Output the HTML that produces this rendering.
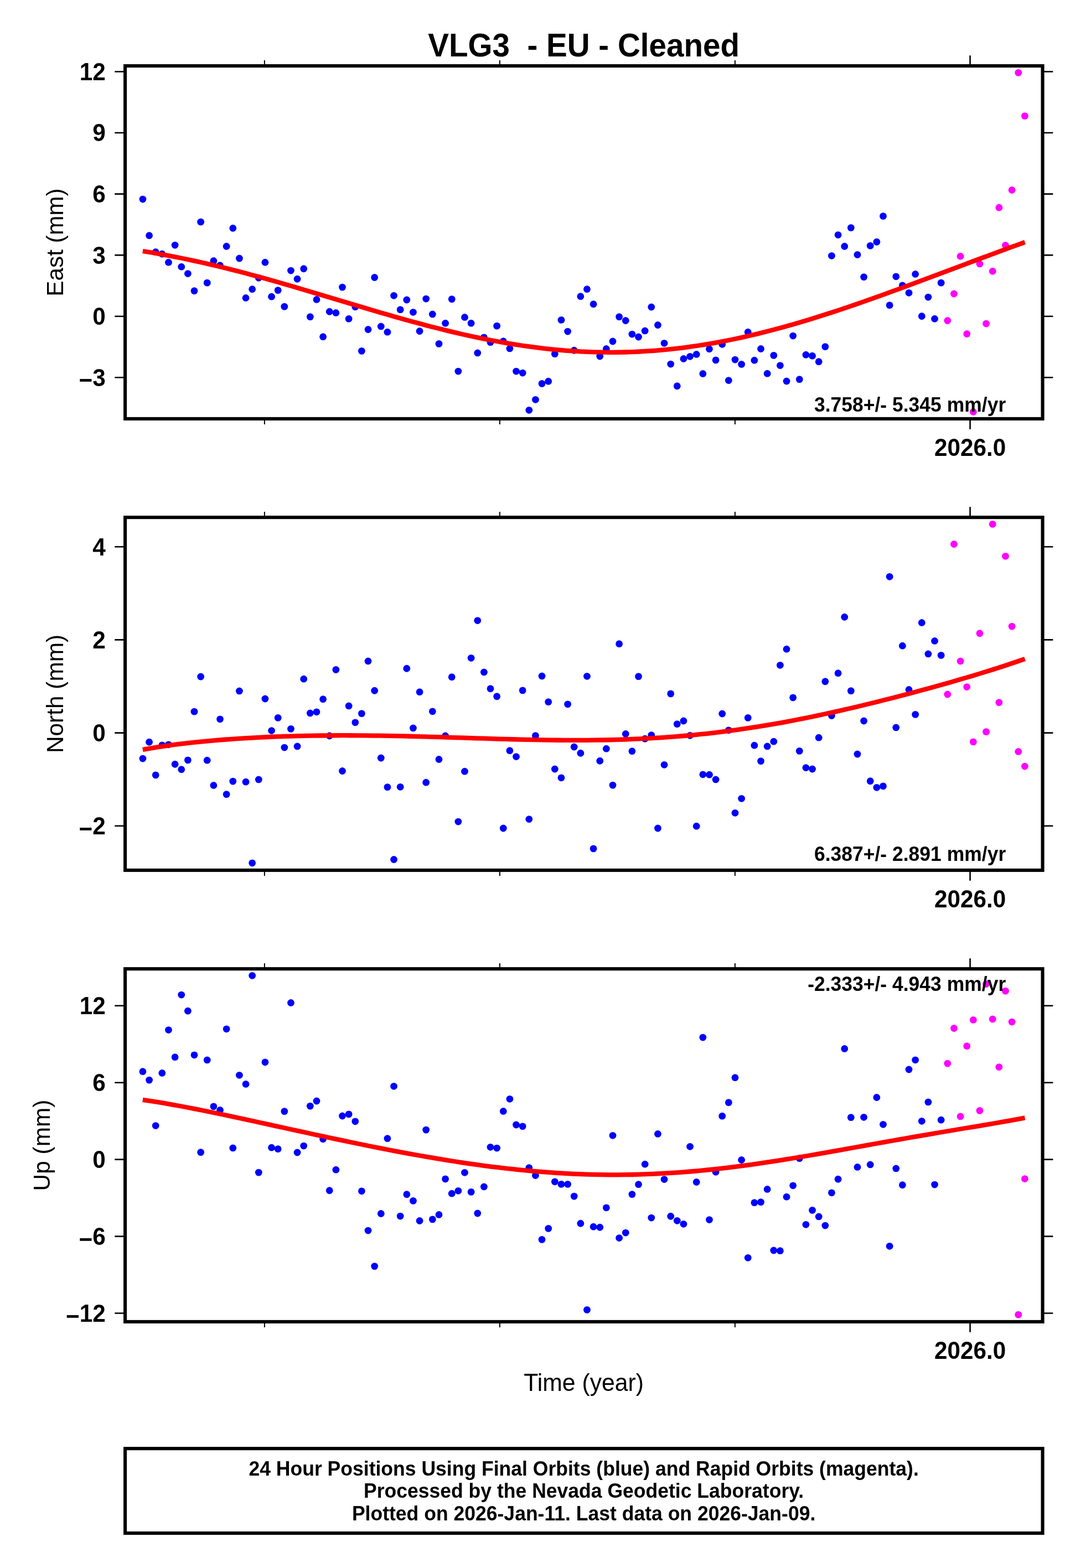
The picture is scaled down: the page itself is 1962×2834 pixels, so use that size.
<!DOCTYPE html>
<html lang="en"><head><meta charset="utf-8"><title>VLG3 - EU - Cleaned</title>
<style>
html,body{margin:0;padding:0;background:#fff;}
body{width:1962px;height:2834px;overflow:hidden;}
svg{display:block;}
text{font-family:"Liberation Sans", Arial, Helvetica, sans-serif;fill:#000;white-space:pre;}
.ann{font-size:42.3px;font-weight:bold;}
.lab{font-size:42.7px;}
.ylab{font-size:42.4px;}
.rate{font-size:35.5px;font-weight:bold;}
.foot{font-size:35.55px;font-weight:bold;}
.title{font-size:56.6px;font-weight:bold;}
.fr{fill:none;stroke:#000;stroke-width:6.1;stroke-linecap:square;stroke-linejoin:miter;}
.tk{fill:none;stroke:#000;stroke-width:2.6;}
.tm{fill:none;stroke:#000;stroke-width:2.0;}
.cv{fill:none;stroke:#f00;stroke-width:8.3;stroke-linejoin:round;stroke-linecap:butt;}
.bl{fill:#00f;}
.mg{fill:#f0f;}
</style></head><body>
<svg width="1962" height="2834" viewBox="0 0 1962 2834">
<rect x="0" y="0" width="1962" height="2834" fill="#fff"/>
<text class="title" id="title" xml:space="preserve" transform="translate(1054.6 101.9) scale(1 1.04)" text-anchor="middle">VLG3  - EU - Cleaned</text>
<g id="panel1">
<g class="bl">
<circle cx="257.95" cy="360.05" r="6.4"/><circle cx="269.58" cy="425.66" r="6.4"/><circle cx="281.21" cy="455.44" r="6.4"/><circle cx="292.84" cy="459.02" r="6.4"/><circle cx="304.47" cy="474.19" r="6.4"/><circle cx="316.11" cy="443.03" r="6.4"/><circle cx="327.74" cy="482.18" r="6.4"/><circle cx="339.37" cy="494.59" r="6.4"/><circle cx="351" cy="525.74" r="6.4"/><circle cx="362.63" cy="401.13" r="6.4"/><circle cx="374.26" cy="511.13" r="6.4"/><circle cx="385.89" cy="471.43" r="6.4"/><circle cx="397.52" cy="479.7" r="6.4"/><circle cx="409.15" cy="445.24" r="6.4"/><circle cx="420.78" cy="412.43" r="6.4"/><circle cx="432.41" cy="467.02" r="6.4"/><circle cx="444.05" cy="538.42" r="6.4"/><circle cx="455.68" cy="522.71" r="6.4"/><circle cx="467.31" cy="502.31" r="6.4"/><circle cx="478.94" cy="474.19" r="6.4"/><circle cx="490.57" cy="536.22" r="6.4"/><circle cx="502.2" cy="524.64" r="6.4"/><circle cx="513.83" cy="554.14" r="6.4"/><circle cx="525.46" cy="489.07" r="6.4"/><circle cx="537.09" cy="504.24" r="6.4"/><circle cx="548.72" cy="485.76" r="6.4"/><circle cx="560.36" cy="572.61" r="6.4"/><circle cx="571.99" cy="541.45" r="6.4"/><circle cx="583.62" cy="608.72" r="6.4"/><circle cx="595.25" cy="563.23" r="6.4"/><circle cx="606.88" cy="565.44" r="6.4"/><circle cx="618.51" cy="519.12" r="6.4"/><circle cx="630.14" cy="576.19" r="6.4"/><circle cx="641.77" cy="554.69" r="6.4"/><circle cx="653.4" cy="634.36" r="6.4"/><circle cx="665.04" cy="595.49" r="6.4"/><circle cx="676.67" cy="501.48" r="6.4"/><circle cx="688.3" cy="589.97" r="6.4"/><circle cx="699.93" cy="600.18" r="6.4"/><circle cx="711.56" cy="534.29" r="6.4"/><circle cx="723.19" cy="559.65" r="6.4"/><circle cx="734.82" cy="542.01" r="6.4"/><circle cx="746.45" cy="564.34" r="6.4"/><circle cx="758.08" cy="598.52" r="6.4"/><circle cx="769.71" cy="540.08" r="6.4"/><circle cx="781.35" cy="567.92" r="6.4"/><circle cx="792.98" cy="621.4" r="6.4"/><circle cx="804.61" cy="584.19" r="6.4"/><circle cx="816.24" cy="540.63" r="6.4"/><circle cx="827.87" cy="671.03" r="6.4"/><circle cx="839.5" cy="573.43" r="6.4"/><circle cx="851.13" cy="584.19" r="6.4"/><circle cx="862.76" cy="637.94" r="6.4"/><circle cx="874.39" cy="609.82" r="6.4"/><circle cx="886.02" cy="618.65" r="6.4"/><circle cx="897.65" cy="589.15" r="6.4"/><circle cx="909.29" cy="616.72" r="6.4"/><circle cx="920.92" cy="629.95" r="6.4"/><circle cx="932.55" cy="671.03" r="6.4"/><circle cx="944.18" cy="674.06" r="6.4"/><circle cx="955.81" cy="741.33" r="6.4"/><circle cx="967.44" cy="722.31" r="6.4"/><circle cx="979.07" cy="693.36" r="6.4"/><circle cx="990.7" cy="689.22" r="6.4"/><circle cx="1002.33" cy="639.6" r="6.4"/><circle cx="1013.96" cy="578.4" r="6.4"/><circle cx="1025.6" cy="599.07" r="6.4"/><circle cx="1037.23" cy="633.26" r="6.4"/><circle cx="1048.86" cy="535.66" r="6.4"/><circle cx="1060.49" cy="522.71" r="6.4"/><circle cx="1072.12" cy="549.72" r="6.4"/><circle cx="1083.75" cy="644.01" r="6.4"/><circle cx="1095.38" cy="630.5" r="6.4"/><circle cx="1107.01" cy="616.99" r="6.4"/><circle cx="1118.64" cy="572.61" r="6.4"/><circle cx="1130.28" cy="579.5" r="6.4"/><circle cx="1141.91" cy="604.04" r="6.4"/><circle cx="1153.54" cy="609" r="6.4"/><circle cx="1165.17" cy="597.97" r="6.4"/><circle cx="1176.8" cy="554.96" r="6.4"/><circle cx="1188.43" cy="587.49" r="6.4"/><circle cx="1200.06" cy="620.3" r="6.4"/><circle cx="1211.69" cy="658.07" r="6.4"/><circle cx="1223.32" cy="697.77" r="6.4"/><circle cx="1234.95" cy="648.42" r="6.4"/><circle cx="1246.59" cy="644.29" r="6.4"/><circle cx="1258.22" cy="640.43" r="6.4"/><circle cx="1269.85" cy="675.44" r="6.4"/><circle cx="1281.48" cy="630.78" r="6.4"/><circle cx="1293.11" cy="650.9" r="6.4"/><circle cx="1304.74" cy="622.23" r="6.4"/><circle cx="1316.37" cy="687.57" r="6.4"/><circle cx="1328" cy="650.08" r="6.4"/><circle cx="1339.63" cy="658.35" r="6.4"/><circle cx="1351.26" cy="600.18" r="6.4"/><circle cx="1362.89" cy="651.18" r="6.4"/><circle cx="1374.53" cy="630.5" r="6.4"/><circle cx="1386.16" cy="675.16" r="6.4"/><circle cx="1397.79" cy="642.36" r="6.4"/><circle cx="1409.42" cy="660.55" r="6.4"/><circle cx="1421.05" cy="688.95" r="6.4"/><circle cx="1432.68" cy="607.07" r="6.4"/><circle cx="1444.31" cy="685.64" r="6.4"/><circle cx="1455.94" cy="641.25" r="6.4"/><circle cx="1467.57" cy="643.18" r="6.4"/><circle cx="1479.21" cy="653.66" r="6.4"/><circle cx="1490.84" cy="626.64" r="6.4"/><circle cx="1502.47" cy="462.33" r="6.4"/><circle cx="1514.1" cy="424.56" r="6.4"/><circle cx="1525.73" cy="445.24" r="6.4"/><circle cx="1537.36" cy="411.6" r="6.4"/><circle cx="1548.99" cy="460.4" r="6.4"/><circle cx="1560.62" cy="500.65" r="6.4"/><circle cx="1572.25" cy="444.14" r="6.4"/><circle cx="1583.88" cy="437.24" r="6.4"/><circle cx="1595.52" cy="390.65" r="6.4"/><circle cx="1607.15" cy="551.65" r="6.4"/><circle cx="1618.78" cy="499.82" r="6.4"/><circle cx="1630.41" cy="515.81" r="6.4"/><circle cx="1642.04" cy="529.32" r="6.4"/><circle cx="1653.67" cy="495.41" r="6.4"/><circle cx="1665.3" cy="571.5" r="6.4"/><circle cx="1676.93" cy="537.04" r="6.4"/><circle cx="1688.56" cy="576.19" r="6.4"/><circle cx="1700.19" cy="511.13" r="6.4"/>
</g>
<g class="mg">
<circle cx="1711.83" cy="579.5" r="6.4"/><circle cx="1723.46" cy="530.98" r="6.4"/><circle cx="1735.09" cy="463.16" r="6.4"/><circle cx="1746.72" cy="603.48" r="6.4"/><circle cx="1758.35" cy="744.36" r="6.4"/><circle cx="1769.98" cy="476.94" r="6.4"/><circle cx="1781.61" cy="585.01" r="6.4"/><circle cx="1793.24" cy="490.18" r="6.4"/><circle cx="1804.87" cy="375.21" r="6.4"/><circle cx="1816.5" cy="443.31" r="6.4"/><circle cx="1828.13" cy="343.51" r="6.4"/><circle cx="1839.77" cy="131.4" r="6.4"/><circle cx="1851.4" cy="209.6" r="6.4"/>
</g>
<path class="cv" d="M257.85 453.81 L271.24 456.03 L284.64 458.36 L298.03 460.8 L311.42 463.34 L324.81 465.99 L338.21 468.75 L351.6 471.61 L364.99 474.57 L378.39 477.64 L391.78 480.8 L405.17 484.05 L418.56 487.39 L431.96 490.82 L445.35 494.33 L458.74 497.91 L472.14 501.57 L485.53 505.29 L498.92 509.07 L512.31 512.9 L525.71 516.78 L539.1 520.71 L552.49 524.66 L565.89 528.65 L579.28 532.66 L592.67 536.68 L606.06 540.71 L619.46 544.74 L632.85 548.76 L646.24 552.78 L659.63 556.77 L673.03 560.73 L686.42 564.66 L699.81 568.55 L713.21 572.4 L726.6 576.18 L739.99 579.91 L753.38 583.57 L766.78 587.15 L780.17 590.65 L793.56 594.07 L806.96 597.39 L820.35 600.61 L833.74 603.73 L847.13 606.73 L860.53 609.62 L873.92 612.39 L887.31 615.03 L900.71 617.54 L914.1 619.91 L927.49 622.14 L940.88 624.23 L954.28 626.17 L967.67 627.95 L981.06 629.58 L994.46 631.05 L1007.85 632.36 L1021.24 633.51 L1034.63 634.48 L1048.03 635.29 L1061.42 635.93 L1074.81 636.39 L1088.21 636.68 L1101.6 636.79 L1114.99 636.73 L1128.38 636.49 L1141.78 636.07 L1155.17 635.48 L1168.56 634.72 L1181.96 633.77 L1195.35 632.65 L1208.74 631.36 L1222.13 629.9 L1235.53 628.27 L1248.92 626.46 L1262.31 624.5 L1275.71 622.36 L1289.1 620.07 L1302.49 617.62 L1315.88 615.01 L1329.28 612.25 L1342.67 609.35 L1356.06 606.3 L1369.46 603.11 L1382.85 599.78 L1396.24 596.32 L1409.63 592.74 L1423.03 589.03 L1436.42 585.2 L1449.81 581.27 L1463.2 577.22 L1476.6 573.08 L1489.99 568.83 L1503.38 564.5 L1516.78 560.08 L1530.17 555.58 L1543.56 551 L1556.95 546.36 L1570.35 541.65 L1583.74 536.89 L1597.13 532.07 L1610.53 527.21 L1623.92 522.31 L1637.31 517.37 L1650.7 512.4 L1664.1 507.41 L1677.49 502.41 L1690.88 497.39 L1704.28 492.36 L1717.67 487.32 L1731.06 482.29 L1744.45 477.27 L1757.85 472.25 L1771.24 467.25 L1784.63 462.27 L1798.03 457.31 L1811.42 452.37 L1824.81 447.46 L1838.2 442.58 L1851.6 437.73"/>
<path class="tk" d="M207.3 129.5H226.1M1883.6 129.5H1902.4M207.3 240.05H226.1M1883.6 240.05H1902.4M207.3 350.6H226.1M1883.6 350.6H1902.4M207.3 461.15H226.1M1883.6 461.15H1902.4M207.3 571.7H226.1M1883.6 571.7H1902.4M207.3 682.25H226.1M1883.6 682.25H1902.4M1752.6 100.3V119.1M1752.6 756.9V775.7"/>
<path class="tm" d="M477.9 108.9V119.1M477.9 756.9V767.1M902.9 108.9V119.1M902.9 756.9V767.1M1327.9 108.9V119.1M1327.9 756.9V767.1"/>
<rect class="fr" x="226.1" y="119.1" width="1657.5" height="637.8"/>
<text class="ann" transform="translate(190.8 144.9) scale(1 1.05)" text-anchor="end">12</text>
<text class="ann" transform="translate(190.8 255.45) scale(1 1.05)" text-anchor="end">9</text>
<text class="ann" transform="translate(190.8 366) scale(1 1.05)" text-anchor="end">6</text>
<text class="ann" transform="translate(190.8 476.55) scale(1 1.05)" text-anchor="end">3</text>
<text class="ann" transform="translate(190.8 587.1) scale(1 1.05)" text-anchor="end">0</text>
<text class="ann" transform="translate(190.8 697.65) scale(1 1.05)" text-anchor="end"><tspan dy="4.4">−</tspan><tspan dy="-4.4">3</tspan></text>
<text class="ann" transform="translate(1752.6 823.8) scale(1 1.05)" text-anchor="middle">2026.0</text>
<text class="ylab" transform="translate(114.2 438) rotate(-90)" text-anchor="middle">East (mm)</text>
<text class="rate" id="rate1" transform="translate(1817.2 743.8) scale(1 1.02)" text-anchor="end">3.758+/- 5.345 mm/yr</text>
</g>
<g id="panel2">
<g class="bl">
<circle cx="257.95" cy="1371.05" r="6.4"/><circle cx="269.58" cy="1341.23" r="6.4"/><circle cx="281.21" cy="1400.88" r="6.4"/><circle cx="292.84" cy="1346.84" r="6.4"/><circle cx="304.47" cy="1345.79" r="6.4"/><circle cx="316.11" cy="1381.23" r="6.4"/><circle cx="327.74" cy="1390.7" r="6.4"/><circle cx="339.37" cy="1373.86" r="6.4"/><circle cx="351" cy="1286.14" r="6.4"/><circle cx="362.63" cy="1222.98" r="6.4"/><circle cx="374.26" cy="1374.21" r="6.4"/><circle cx="385.89" cy="1419.47" r="6.4"/><circle cx="397.52" cy="1299.82" r="6.4"/><circle cx="409.15" cy="1435.61" r="6.4"/><circle cx="420.78" cy="1412.11" r="6.4"/><circle cx="432.41" cy="1248.95" r="6.4"/><circle cx="444.05" cy="1413.16" r="6.4"/><circle cx="455.68" cy="1559.82" r="6.4"/><circle cx="467.31" cy="1408.95" r="6.4"/><circle cx="478.94" cy="1262.98" r="6.4"/><circle cx="490.57" cy="1320.53" r="6.4"/><circle cx="502.2" cy="1297.37" r="6.4"/><circle cx="513.83" cy="1351.05" r="6.4"/><circle cx="525.46" cy="1317.37" r="6.4"/><circle cx="537.09" cy="1348.95" r="6.4"/><circle cx="548.72" cy="1227.19" r="6.4"/><circle cx="560.36" cy="1288.95" r="6.4"/><circle cx="571.99" cy="1286.84" r="6.4"/><circle cx="583.62" cy="1263.68" r="6.4"/><circle cx="595.25" cy="1330" r="6.4"/><circle cx="606.88" cy="1210.35" r="6.4"/><circle cx="618.51" cy="1393.51" r="6.4"/><circle cx="630.14" cy="1275.96" r="6.4"/><circle cx="641.77" cy="1305.79" r="6.4"/><circle cx="653.4" cy="1289.65" r="6.4"/><circle cx="665.04" cy="1194.91" r="6.4"/><circle cx="676.67" cy="1248.25" r="6.4"/><circle cx="688.3" cy="1370" r="6.4"/><circle cx="699.93" cy="1422.63" r="6.4"/><circle cx="711.56" cy="1553.51" r="6.4"/><circle cx="723.19" cy="1422.28" r="6.4"/><circle cx="734.82" cy="1208.25" r="6.4"/><circle cx="746.45" cy="1315.96" r="6.4"/><circle cx="758.08" cy="1250.7" r="6.4"/><circle cx="769.71" cy="1414.21" r="6.4"/><circle cx="781.35" cy="1285.79" r="6.4"/><circle cx="792.98" cy="1372.46" r="6.4"/><circle cx="804.61" cy="1330" r="6.4"/><circle cx="816.24" cy="1223.68" r="6.4"/><circle cx="827.87" cy="1485.09" r="6.4"/><circle cx="839.5" cy="1394.21" r="6.4"/><circle cx="851.13" cy="1189.3" r="6.4"/><circle cx="862.76" cy="1121.58" r="6.4"/><circle cx="874.39" cy="1214.91" r="6.4"/><circle cx="886.02" cy="1244.74" r="6.4"/><circle cx="897.65" cy="1258.77" r="6.4"/><circle cx="909.29" cy="1497.02" r="6.4"/><circle cx="920.92" cy="1356.67" r="6.4"/><circle cx="932.55" cy="1367.54" r="6.4"/><circle cx="944.18" cy="1247.89" r="6.4"/><circle cx="955.81" cy="1480.53" r="6.4"/><circle cx="967.44" cy="1329.65" r="6.4"/><circle cx="979.07" cy="1221.93" r="6.4"/><circle cx="990.7" cy="1268.6" r="6.4"/><circle cx="1002.33" cy="1390" r="6.4"/><circle cx="1013.96" cy="1405.79" r="6.4"/><circle cx="1025.6" cy="1272.81" r="6.4"/><circle cx="1037.23" cy="1350" r="6.4"/><circle cx="1048.86" cy="1361.23" r="6.4"/><circle cx="1060.49" cy="1222.28" r="6.4"/><circle cx="1072.12" cy="1533.86" r="6.4"/><circle cx="1083.75" cy="1375.26" r="6.4"/><circle cx="1095.38" cy="1353.16" r="6.4"/><circle cx="1107.01" cy="1419.12" r="6.4"/><circle cx="1118.64" cy="1163.68" r="6.4"/><circle cx="1130.28" cy="1326.49" r="6.4"/><circle cx="1141.91" cy="1357.72" r="6.4"/><circle cx="1153.54" cy="1222.63" r="6.4"/><circle cx="1165.17" cy="1335.26" r="6.4"/><circle cx="1176.8" cy="1328.6" r="6.4"/><circle cx="1188.43" cy="1497.02" r="6.4"/><circle cx="1200.06" cy="1382.28" r="6.4"/><circle cx="1211.69" cy="1253.86" r="6.4"/><circle cx="1223.32" cy="1308.6" r="6.4"/><circle cx="1234.95" cy="1302.98" r="6.4"/><circle cx="1246.59" cy="1329.3" r="6.4"/><circle cx="1258.22" cy="1493.16" r="6.4"/><circle cx="1269.85" cy="1399.82" r="6.4"/><circle cx="1281.48" cy="1400.18" r="6.4"/><circle cx="1293.11" cy="1408.95" r="6.4"/><circle cx="1304.74" cy="1290" r="6.4"/><circle cx="1316.37" cy="1319.82" r="6.4"/><circle cx="1328" cy="1469.3" r="6.4"/><circle cx="1339.63" cy="1443.33" r="6.4"/><circle cx="1351.26" cy="1297.37" r="6.4"/><circle cx="1362.89" cy="1347.19" r="6.4"/><circle cx="1374.53" cy="1375.61" r="6.4"/><circle cx="1386.16" cy="1348.95" r="6.4"/><circle cx="1397.79" cy="1340.18" r="6.4"/><circle cx="1409.42" cy="1202.28" r="6.4"/><circle cx="1421.05" cy="1173.16" r="6.4"/><circle cx="1432.68" cy="1260.88" r="6.4"/><circle cx="1444.31" cy="1357.37" r="6.4"/><circle cx="1455.94" cy="1387.54" r="6.4"/><circle cx="1467.57" cy="1390" r="6.4"/><circle cx="1479.21" cy="1333.16" r="6.4"/><circle cx="1490.84" cy="1231.75" r="6.4"/><circle cx="1502.47" cy="1293.51" r="6.4"/><circle cx="1514.1" cy="1216.67" r="6.4"/><circle cx="1525.73" cy="1115.26" r="6.4"/><circle cx="1537.36" cy="1248.6" r="6.4"/><circle cx="1548.99" cy="1362.98" r="6.4"/><circle cx="1560.62" cy="1302.98" r="6.4"/><circle cx="1572.25" cy="1411.75" r="6.4"/><circle cx="1583.88" cy="1423.33" r="6.4"/><circle cx="1595.52" cy="1420.88" r="6.4"/><circle cx="1607.15" cy="1042.28" r="6.4"/><circle cx="1618.78" cy="1314.91" r="6.4"/><circle cx="1630.41" cy="1167.19" r="6.4"/><circle cx="1642.04" cy="1246.49" r="6.4"/><circle cx="1653.67" cy="1291.4" r="6.4"/><circle cx="1665.3" cy="1125.44" r="6.4"/><circle cx="1676.93" cy="1181.93" r="6.4"/><circle cx="1688.56" cy="1158.42" r="6.4"/><circle cx="1700.19" cy="1184.39" r="6.4"/>
</g>
<g class="mg">
<circle cx="1711.83" cy="1254.91" r="6.4"/><circle cx="1723.46" cy="983.5" r="6.4"/><circle cx="1735.09" cy="1194.91" r="6.4"/><circle cx="1746.72" cy="1241.58" r="6.4"/><circle cx="1758.35" cy="1340.88" r="6.4"/><circle cx="1769.98" cy="1144.74" r="6.4"/><circle cx="1781.61" cy="1322.63" r="6.4"/><circle cx="1793.24" cy="947.4" r="6.4"/><circle cx="1804.87" cy="1269.65" r="6.4"/><circle cx="1816.5" cy="1005.3" r="6.4"/><circle cx="1828.13" cy="1132.11" r="6.4"/><circle cx="1839.77" cy="1358.42" r="6.4"/><circle cx="1851.4" cy="1385.09" r="6.4"/>
</g>
<path class="cv" d="M257.85 1354.9 L271.24 1352.54 L284.64 1350.37 L298.03 1348.35 L311.42 1346.47 L324.81 1344.74 L338.21 1343.14 L351.6 1341.65 L364.99 1340.27 L378.39 1339.01 L391.78 1337.83 L405.17 1336.76 L418.56 1335.77 L431.96 1334.86 L445.35 1334.03 L458.74 1333.28 L472.14 1332.6 L485.53 1331.99 L498.92 1331.45 L512.31 1330.97 L525.71 1330.56 L539.1 1330.2 L552.49 1329.9 L565.89 1329.66 L579.28 1329.48 L592.67 1329.34 L606.06 1329.26 L619.46 1329.22 L632.85 1329.23 L646.24 1329.29 L659.63 1329.39 L673.03 1329.53 L686.42 1329.71 L699.81 1329.92 L713.21 1330.17 L726.6 1330.45 L739.99 1330.76 L753.38 1331.09 L766.78 1331.44 L780.17 1331.82 L793.56 1332.21 L806.96 1332.62 L820.35 1333.03 L833.74 1333.46 L847.13 1333.88 L860.53 1334.3 L873.92 1334.72 L887.31 1335.13 L900.71 1335.53 L914.1 1335.91 L927.49 1336.27 L940.88 1336.61 L954.28 1336.92 L967.67 1337.19 L981.06 1337.43 L994.46 1337.62 L1007.85 1337.77 L1021.24 1337.88 L1034.63 1337.92 L1048.03 1337.92 L1061.42 1337.85 L1074.81 1337.72 L1088.21 1337.52 L1101.6 1337.24 L1114.99 1336.9 L1128.38 1336.48 L1141.78 1335.97 L1155.17 1335.39 L1168.56 1334.71 L1181.96 1333.95 L1195.35 1333.11 L1208.74 1332.16 L1222.13 1331.13 L1235.53 1330 L1248.92 1328.78 L1262.31 1327.45 L1275.71 1326.03 L1289.1 1324.52 L1302.49 1322.9 L1315.88 1321.19 L1329.28 1319.38 L1342.67 1317.47 L1356.06 1315.47 L1369.46 1313.38 L1382.85 1311.19 L1396.24 1308.91 L1409.63 1306.54 L1423.03 1304.08 L1436.42 1301.54 L1449.81 1298.91 L1463.2 1296.21 L1476.6 1293.42 L1489.99 1290.56 L1503.38 1287.63 L1516.78 1284.63 L1530.17 1281.57 L1543.56 1278.44 L1556.95 1275.24 L1570.35 1272 L1583.74 1268.69 L1597.13 1265.33 L1610.53 1261.92 L1623.92 1258.46 L1637.31 1254.95 L1650.7 1251.4 L1664.1 1247.79 L1677.49 1244.14 L1690.88 1240.44 L1704.28 1236.69 L1717.67 1232.89 L1731.06 1229.04 L1744.45 1225.13 L1757.85 1221.15 L1771.24 1217.1 L1784.63 1212.98 L1798.03 1208.77 L1811.42 1204.47 L1824.81 1200.05 L1838.2 1195.52 L1851.6 1190.85"/>
<path class="tk" d="M207.3 988.2H226.1M1883.6 988.2H1902.4M207.3 1156.4H226.1M1883.6 1156.4H1902.4M207.3 1324.6H226.1M1883.6 1324.6H1902.4M207.3 1492.8H226.1M1883.6 1492.8H1902.4M1752.6 916.3V935.1M1752.6 1572.85V1591.65"/>
<path class="tm" d="M477.9 924.9V935.1M477.9 1572.85V1583.05M902.9 924.9V935.1M902.9 1572.85V1583.05M1327.9 924.9V935.1M1327.9 1572.85V1583.05"/>
<rect class="fr" x="226.1" y="935.1" width="1657.5" height="637.75"/>
<text class="ann" transform="translate(190.8 1003.6) scale(1 1.05)" text-anchor="end">4</text>
<text class="ann" transform="translate(190.8 1171.8) scale(1 1.05)" text-anchor="end">2</text>
<text class="ann" transform="translate(190.8 1340) scale(1 1.05)" text-anchor="end">0</text>
<text class="ann" transform="translate(190.8 1508.2) scale(1 1.05)" text-anchor="end"><tspan dy="4.4">−</tspan><tspan dy="-4.4">2</tspan></text>
<text class="ann" transform="translate(1752.6 1639.7) scale(1 1.05)" text-anchor="middle">2026.0</text>
<text class="ylab" transform="translate(114.2 1253.97) rotate(-90)" text-anchor="middle">North (mm)</text>
<text class="rate" id="rate2" transform="translate(1817.2 1556) scale(1 1.02)" text-anchor="end">6.387+/- 2.891 mm/yr</text>
</g>
<g id="panel3">
<g class="bl">
<circle cx="257.95" cy="1936.67" r="6.4"/><circle cx="269.58" cy="1952.11" r="6.4"/><circle cx="281.21" cy="2034.56" r="6.4"/><circle cx="292.84" cy="1939.47" r="6.4"/><circle cx="304.47" cy="1861.58" r="6.4"/><circle cx="316.11" cy="1910.7" r="6.4"/><circle cx="327.74" cy="1798.07" r="6.4"/><circle cx="339.37" cy="1827.19" r="6.4"/><circle cx="351" cy="1906.84" r="6.4"/><circle cx="362.63" cy="2082.63" r="6.4"/><circle cx="374.26" cy="1915.96" r="6.4"/><circle cx="385.89" cy="1999.82" r="6.4"/><circle cx="397.52" cy="2006.49" r="6.4"/><circle cx="409.15" cy="1859.82" r="6.4"/><circle cx="420.78" cy="2074.91" r="6.4"/><circle cx="432.41" cy="1943.33" r="6.4"/><circle cx="444.05" cy="1959.47" r="6.4"/><circle cx="455.68" cy="1763.33" r="6.4"/><circle cx="467.31" cy="2119.12" r="6.4"/><circle cx="478.94" cy="1919.82" r="6.4"/><circle cx="490.57" cy="2074.21" r="6.4"/><circle cx="502.2" cy="2076.67" r="6.4"/><circle cx="513.83" cy="2008.6" r="6.4"/><circle cx="525.46" cy="1812.46" r="6.4"/><circle cx="537.09" cy="2082.98" r="6.4"/><circle cx="548.72" cy="2071.05" r="6.4"/><circle cx="560.36" cy="1999.12" r="6.4"/><circle cx="571.99" cy="1990" r="6.4"/><circle cx="583.62" cy="2058.77" r="6.4"/><circle cx="595.25" cy="2151.75" r="6.4"/><circle cx="606.88" cy="2114.21" r="6.4"/><circle cx="618.51" cy="2017.02" r="6.4"/><circle cx="630.14" cy="2013.86" r="6.4"/><circle cx="641.77" cy="2026.84" r="6.4"/><circle cx="653.4" cy="2152.81" r="6.4"/><circle cx="665.04" cy="2224.04" r="6.4"/><circle cx="676.67" cy="2288.6" r="6.4"/><circle cx="688.3" cy="2193.51" r="6.4"/><circle cx="699.93" cy="2057.72" r="6.4"/><circle cx="711.56" cy="1963.33" r="6.4"/><circle cx="723.19" cy="2198.07" r="6.4"/><circle cx="734.82" cy="2158.77" r="6.4"/><circle cx="746.45" cy="2170.35" r="6.4"/><circle cx="758.08" cy="2206.49" r="6.4"/><circle cx="769.71" cy="2042.11" r="6.4"/><circle cx="781.35" cy="2203.86" r="6.4"/><circle cx="792.98" cy="2195.44" r="6.4"/><circle cx="804.61" cy="2130.88" r="6.4"/><circle cx="816.24" cy="2157.19" r="6.4"/><circle cx="827.87" cy="2152.28" r="6.4"/><circle cx="839.5" cy="2119.3" r="6.4"/><circle cx="851.13" cy="2154.39" r="6.4"/><circle cx="862.76" cy="2192.98" r="6.4"/><circle cx="874.39" cy="2144.91" r="6.4"/><circle cx="886.02" cy="2073.33" r="6.4"/><circle cx="897.65" cy="2075.09" r="6.4"/><circle cx="909.29" cy="2008.42" r="6.4"/><circle cx="920.92" cy="1986.32" r="6.4"/><circle cx="932.55" cy="2032.98" r="6.4"/><circle cx="944.18" cy="2035.79" r="6.4"/><circle cx="955.81" cy="2110.53" r="6.4"/><circle cx="967.44" cy="2124.56" r="6.4"/><circle cx="979.07" cy="2240.35" r="6.4"/><circle cx="990.7" cy="2220.35" r="6.4"/><circle cx="1002.33" cy="2135.79" r="6.4"/><circle cx="1013.96" cy="2140.35" r="6.4"/><circle cx="1025.6" cy="2140.35" r="6.4"/><circle cx="1037.23" cy="2162.11" r="6.4"/><circle cx="1048.86" cy="2211.23" r="6.4"/><circle cx="1060.49" cy="2367.37" r="6.4"/><circle cx="1072.12" cy="2217.19" r="6.4"/><circle cx="1083.75" cy="2218.25" r="6.4"/><circle cx="1095.38" cy="2182.81" r="6.4"/><circle cx="1107.01" cy="2052.28" r="6.4"/><circle cx="1118.64" cy="2237.54" r="6.4"/><circle cx="1130.28" cy="2228.07" r="6.4"/><circle cx="1141.91" cy="2158.6" r="6.4"/><circle cx="1153.54" cy="2140.7" r="6.4"/><circle cx="1165.17" cy="2104.21" r="6.4"/><circle cx="1176.8" cy="2201.05" r="6.4"/><circle cx="1188.43" cy="2049.47" r="6.4"/><circle cx="1200.06" cy="2131.58" r="6.4"/><circle cx="1211.69" cy="2198.25" r="6.4"/><circle cx="1223.32" cy="2206.32" r="6.4"/><circle cx="1234.95" cy="2212.28" r="6.4"/><circle cx="1246.59" cy="2072.28" r="6.4"/><circle cx="1258.22" cy="2136.49" r="6.4"/><circle cx="1269.85" cy="1875.09" r="6.4"/><circle cx="1281.48" cy="2204.56" r="6.4"/><circle cx="1293.11" cy="2118.25" r="6.4"/><circle cx="1304.74" cy="2017.19" r="6.4"/><circle cx="1316.37" cy="1992.63" r="6.4"/><circle cx="1328" cy="1947.72" r="6.4"/><circle cx="1339.63" cy="2096.49" r="6.4"/><circle cx="1351.26" cy="2273.33" r="6.4"/><circle cx="1362.89" cy="2173.68" r="6.4"/><circle cx="1374.53" cy="2172.63" r="6.4"/><circle cx="1386.16" cy="2149.47" r="6.4"/><circle cx="1397.79" cy="2260" r="6.4"/><circle cx="1409.42" cy="2260.7" r="6.4"/><circle cx="1421.05" cy="2163.16" r="6.4"/><circle cx="1432.68" cy="2142.81" r="6.4"/><circle cx="1444.31" cy="2093.68" r="6.4"/><circle cx="1455.94" cy="2213.33" r="6.4"/><circle cx="1467.57" cy="2187.37" r="6.4"/><circle cx="1479.21" cy="2198.95" r="6.4"/><circle cx="1490.84" cy="2215.09" r="6.4"/><circle cx="1502.47" cy="2155.79" r="6.4"/><circle cx="1514.1" cy="2131.23" r="6.4"/><circle cx="1525.73" cy="1895.44" r="6.4"/><circle cx="1537.36" cy="2019.65" r="6.4"/><circle cx="1548.99" cy="2109.47" r="6.4"/><circle cx="1560.62" cy="2019.3" r="6.4"/><circle cx="1572.25" cy="2104.91" r="6.4"/><circle cx="1583.88" cy="1983.51" r="6.4"/><circle cx="1595.52" cy="2032.28" r="6.4"/><circle cx="1607.15" cy="2252.28" r="6.4"/><circle cx="1618.78" cy="2111.93" r="6.4"/><circle cx="1630.41" cy="2141.75" r="6.4"/><circle cx="1642.04" cy="1932.98" r="6.4"/><circle cx="1653.67" cy="1915.79" r="6.4"/><circle cx="1665.3" cy="2026.32" r="6.4"/><circle cx="1676.93" cy="1991.93" r="6.4"/><circle cx="1688.56" cy="2141.05" r="6.4"/><circle cx="1700.19" cy="2024.21" r="6.4"/>
</g>
<g class="mg">
<circle cx="1711.83" cy="1922.11" r="6.4"/><circle cx="1723.46" cy="1858.5" r="6.4"/><circle cx="1735.09" cy="2017.89" r="6.4"/><circle cx="1746.72" cy="1890.68" r="6.4"/><circle cx="1758.35" cy="1843.46" r="6.4"/><circle cx="1769.98" cy="2007.37" r="6.4"/><circle cx="1781.61" cy="1778.5" r="6.4"/><circle cx="1793.24" cy="1841.95" r="6.4"/><circle cx="1804.87" cy="1928.57" r="6.4"/><circle cx="1816.5" cy="1791.13" r="6.4"/><circle cx="1828.13" cy="1847.07" r="6.4"/><circle cx="1839.77" cy="2376.14" r="6.4"/><circle cx="1851.4" cy="2130.53" r="6.4"/>
</g>
<path class="cv" d="M257.85 1987.85 L271.24 1989.84 L284.64 1991.97 L298.03 1994.21 L311.42 1996.55 L324.81 1998.99 L338.21 2001.51 L351.6 2004.1 L364.99 2006.76 L378.39 2009.47 L391.78 2012.23 L405.17 2015.03 L418.56 2017.87 L431.96 2020.74 L445.35 2023.63 L458.74 2026.54 L472.14 2029.46 L485.53 2032.39 L498.92 2035.33 L512.31 2038.27 L525.71 2041.21 L539.1 2044.14 L552.49 2047.06 L565.89 2049.97 L579.28 2052.86 L592.67 2055.74 L606.06 2058.59 L619.46 2061.43 L632.85 2064.23 L646.24 2067 L659.63 2069.74 L673.03 2072.45 L686.42 2075.11 L699.81 2077.74 L713.21 2080.32 L726.6 2082.85 L739.99 2085.34 L753.38 2087.77 L766.78 2090.14 L780.17 2092.46 L793.56 2094.71 L806.96 2096.9 L820.35 2099.02 L833.74 2101.08 L847.13 2103.06 L860.53 2104.96 L873.92 2106.78 L887.31 2108.53 L900.71 2110.18 L914.1 2111.75 L927.49 2113.23 L940.88 2114.62 L954.28 2115.91 L967.67 2117.11 L981.06 2118.21 L994.46 2119.2 L1007.85 2120.09 L1021.24 2120.88 L1034.63 2121.55 L1048.03 2122.12 L1061.42 2122.58 L1074.81 2122.93 L1088.21 2123.17 L1101.6 2123.29 L1114.99 2123.3 L1128.38 2123.2 L1141.78 2122.98 L1155.17 2122.65 L1168.56 2122.21 L1181.96 2121.65 L1195.35 2120.98 L1208.74 2120.21 L1222.13 2119.32 L1235.53 2118.33 L1248.92 2117.24 L1262.31 2116.04 L1275.71 2114.75 L1289.1 2113.35 L1302.49 2111.87 L1315.88 2110.29 L1329.28 2108.63 L1342.67 2106.89 L1356.06 2105.06 L1369.46 2103.17 L1382.85 2101.2 L1396.24 2099.17 L1409.63 2097.08 L1423.03 2094.93 L1436.42 2092.74 L1449.81 2090.5 L1463.2 2088.22 L1476.6 2085.91 L1489.99 2083.56 L1503.38 2081.2 L1516.78 2078.81 L1530.17 2076.41 L1543.56 2074.01 L1556.95 2071.6 L1570.35 2069.19 L1583.74 2066.78 L1597.13 2064.38 L1610.53 2061.99 L1623.92 2059.62 L1637.31 2057.26 L1650.7 2054.92 L1664.1 2052.6 L1677.49 2050.3 L1690.88 2048.02 L1704.28 2045.76 L1717.67 2043.5 L1731.06 2041.26 L1744.45 2039.03 L1757.85 2036.79 L1771.24 2034.55 L1784.63 2032.29 L1798.03 2030.01 L1811.42 2027.68 L1824.81 2025.3 L1838.2 2022.85 L1851.6 2020.31"/>
<path class="tk" d="M207.3 1817.79H226.1M1883.6 1817.79H1902.4M207.3 1956.72H226.1M1883.6 1956.72H1902.4M207.3 2095.65H226.1M1883.6 2095.65H1902.4M207.3 2234.58H226.1M1883.6 2234.58H1902.4M207.3 2373.51H226.1M1883.6 2373.51H1902.4M1752.6 1732.3V1751.1M1752.6 2388.9V2407.7"/>
<path class="tm" d="M477.9 1740.9V1751.1M477.9 2388.9V2399.1M902.9 1740.9V1751.1M902.9 2388.9V2399.1M1327.9 1740.9V1751.1M1327.9 2388.9V2399.1"/>
<rect class="fr" x="226.1" y="1751.1" width="1657.5" height="637.8"/>
<text class="ann" transform="translate(190.8 1833.19) scale(1 1.05)" text-anchor="end">12</text>
<text class="ann" transform="translate(190.8 1972.12) scale(1 1.05)" text-anchor="end">6</text>
<text class="ann" transform="translate(190.8 2111.05) scale(1 1.05)" text-anchor="end">0</text>
<text class="ann" transform="translate(190.8 2249.98) scale(1 1.05)" text-anchor="end"><tspan dy="4.4">−</tspan><tspan dy="-4.4">6</tspan></text>
<text class="ann" transform="translate(190.8 2388.91) scale(1 1.05)" text-anchor="end"><tspan dy="4.4">−</tspan><tspan dy="-4.4">12</tspan></text>
<text class="ann" transform="translate(1752.6 2455.7) scale(1 1.05)" text-anchor="middle">2026.0</text>
<text class="ylab" transform="translate(90 2070) rotate(-90)" text-anchor="middle">Up (mm)</text>
<text class="rate" id="rate3" transform="translate(1817.2 1791) scale(1 1.02)" text-anchor="end">-2.333+/- 4.943 mm/yr</text>
</g>
<text class="lab" transform="translate(1054.6 2513.5) scale(1 1.03)" text-anchor="middle">Time (year)</text>
<rect class="fr" x="226.1" y="2618.1" width="1657.5" height="152.9"/>
<text class="foot" transform="translate(1054.6 2667) scale(1 1.05)" text-anchor="middle">24 Hour Positions Using Final Orbits (blue) and Rapid Orbits (magenta).</text>
<text class="foot" transform="translate(1054.6 2707.1) scale(1 1.05)" text-anchor="middle">Processed by the Nevada Geodetic Laboratory.</text>
<text class="foot" transform="translate(1054.6 2747.8) scale(1 1.05)" text-anchor="middle">Plotted on 2026-Jan-11. Last data on 2026-Jan-09.</text>
</svg>
</body></html>
